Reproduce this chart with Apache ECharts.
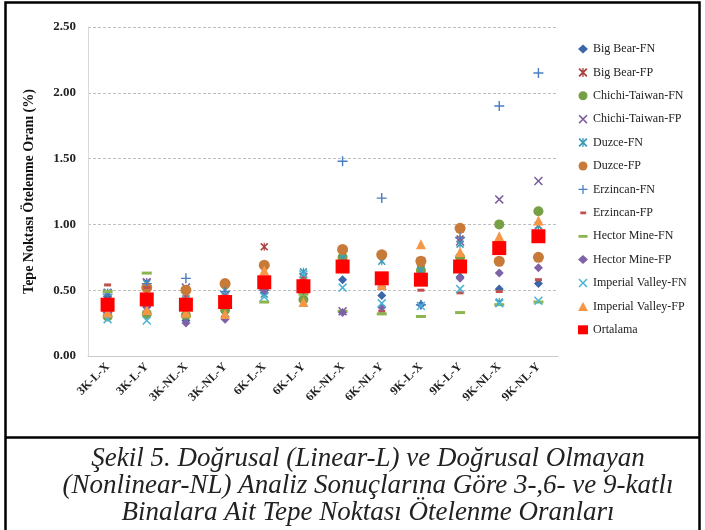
<!DOCTYPE html>
<html>
<head>
<meta charset="utf-8">
<script src="https://cdn.jsdelivr.net/npm/echarts@6/dist/echarts.min.js"></script>
<style>
  html, body { margin: 0; padding: 0; background: #fff; }
  #chart { width: 705px; height: 530px; }
</style>
</head>
<body>
<div id="chart"></div>
<script>
// Building / analysis cases on the x axis
const categories = ['3K-L-X', '3K-L-Y', '3K-NL-X', '3K-NL-Y', '6K-L-X', '6K-L-Y',
                    '6K-NL-X', '6K-NL-Y', '9K-L-X', '9K-L-Y', '9K-NL-X', '9K-NL-Y'];

// Roof drift ratios (%) per earthquake record and component
const bigBearFN        = [0.45, 0.38, 0.27, 0.30, 0.48, 0.50, 0.58, 0.46, 0.39, 0.60, 0.51, 0.55];
const bigBearFP        = [0.48, 0.56, 0.50, 0.44, 0.83, 0.58, 0.74, 0.60, 0.70, 0.89, 0.86, 0.99];
const chichiTaiwanFN   = [0.30, 0.32, 0.31, 0.35, 0.52, 0.43, 0.75, 0.58, 0.65, 0.75, 1.00, 1.10];
const chichiTaiwanFP   = [0.48, 0.56, 0.52, 0.46, 0.55, 0.60, 0.34, 0.55, 0.72, 0.87, 1.19, 1.33];
const duzceFN          = [0.48, 0.55, 0.46, 0.50, 0.47, 0.64, 0.74, 0.72, 0.65, 0.85, 0.41, 0.99];
const duzceFP          = [0.35, 0.52, 0.50, 0.55, 0.69, 0.55, 0.81, 0.77, 0.72, 0.97, 0.72, 0.75];
const erzincanFN       = [0.47, 0.55, 0.59, 0.49, 0.50, 0.55, 1.48, 1.20, 0.39, 0.90, 1.90, 2.15];
const erzincanFP       = [0.54, 0.52, 0.45, 0.45, 0.55, 0.60, 0.34, 0.34, 0.50, 0.48, 0.49, 0.58];
const hectorMineFN     = [0.49, 0.63, 0.30, 0.40, 0.41, 0.47, 0.34, 0.32, 0.30, 0.33, 0.39, 0.41];
const hectorMineFP     = [0.33, 0.37, 0.25, 0.28, 0.50, 0.50, 0.33, 0.37, 0.60, 0.59, 0.63, 0.67];
const imperialValleyFN = [0.28, 0.27, 0.43, 0.43, 0.45, 0.62, 0.52, 0.40, 0.38, 0.51, 0.40, 0.42];
const imperialValleyFP = [0.33, 0.35, 0.33, 0.32, 0.65, 0.41, 0.67, 0.54, 0.85, 0.79, 0.91, 1.03];
const ortalama         = [0.39, 0.43, 0.39, 0.41, 0.56, 0.53, 0.68, 0.59, 0.58, 0.68, 0.82, 0.91];

// Y axis ticks
const yTicks = [0, 0.5, 1.0, 1.5, 2.0, 2.5];

const captionLines = [
  'Şekil 5. Doğrusal (Linear-L) ve Doğrusal Olmayan',
  '(Nonlinear-NL) Analiz Sonuçlarına Göre 3-,6- ve 9-katlı',
  'Binalara Ait Tepe Noktası Ötelenme Oranları'
];

// Marker shapes
const X_PATH = 'path://M0,1.2 L1.2,0 L5,3.8 L8.8,0 L10,1.2 L6.2,5 L10,8.8 L8.8,10 L5,6.2 L1.2,10 L0,8.8 L3.8,5 Z';
const PLUS_PATH = 'path://M4.3,0 L5.7,0 L5.7,4.3 L10,4.3 L10,5.7 L5.7,5.7 L5.7,10 L4.3,10 L4.3,5.7 L0,5.7 L0,4.3 L4.3,4.3 Z';
const STAR_PATH = 'path://M0,1.4 L1.4,0 L5,3.6 L8.6,0 L10,1.4 L6.4,5 L10,8.6 L8.6,10 L5,6.4 L1.4,10 L0,8.6 L3.6,5 Z M4.3,0 L5.7,0 L5.7,10 L4.3,10 Z';
// legend icons for the dash markers: zero-area corner points keep the 10x10 box
const SHORT_DASH_ICON = 'path://M0,0 L0,0 Z M10,10 L10,10 Z M2,3.6 L8.5,3.6 L8.5,6.6 L2,6.6 Z';
const LONG_DASH_ICON = 'path://M0,0 L0,0 Z M10,10 L10,10 Z M0,3.6 L10,3.6 L10,6.6 L0,6.6 Z';

const FONT = '"Liberation Serif", "Times New Roman", serif';

const seriesDefs = [
  { name: 'Big Bear-FN',         data: bigBearFN,        symbol: 'diamond',   size: 9,        color: '#3B66A8' },
  { name: 'Big Bear-FP',         data: bigBearFP,        symbol: STAR_PATH,   size: 8,        color: '#A8423F' },
  { name: 'Chichi-Taiwan-FN',    data: chichiTaiwanFN,   symbol: 'circle',    size: 10,       color: '#77A046' },
  { name: 'Chichi-Taiwan-FP',    data: chichiTaiwanFP,   symbol: X_PATH,      size: 9,        color: '#7A5E9E' },
  { name: 'Duzce-FN',            data: duzceFN,          symbol: STAR_PATH,   size: 8,        color: '#3E9CB8' },
  { name: 'Duzce-FP',            data: duzceFP,          symbol: 'circle',    size: 11,       color: '#C87B39' },
  { name: 'Erzincan-FN',         data: erzincanFN,       symbol: PLUS_PATH,   size: 10,       color: '#4A7EC2' },
  { name: 'Erzincan-FP',         data: erzincanFP,       symbol: 'rect',      size: [7, 3],   color: '#C0504D', icon: SHORT_DASH_ICON },
  { name: 'Hector Mine-FN',      data: hectorMineFN,     symbol: 'rect',      size: [10, 3],  color: '#8DB54F', icon: LONG_DASH_ICON },
  { name: 'Hector Mine-FP',      data: hectorMineFP,     symbol: 'diamond',   size: 9,        color: '#7E62A8' },
  { name: 'Imperial Valley-FN',  data: imperialValleyFN, symbol: X_PATH,      size: 9,        color: '#4BB4D6' },
  { name: 'Imperial Valley-FP',  data: imperialValleyFP, symbol: 'triangle',  size: 10,       color: '#F79646' },
  { name: 'Ortalama',            data: ortalama,         symbol: 'rect',      size: 14,       color: '#FF0000' }
];

const chart = echarts.init(document.getElementById('chart'), null, { renderer: 'canvas' });

const option = {
  backgroundColor: '#ffffff',
  animation: false,
  textStyle: { fontFamily: FONT },
  grid: { left: 88, top: 27, right: 147, bottom: 174, containLabel: false },
  legend: {
    orient: 'vertical',
    left: 573,
    top: 37,
    itemWidth: 10,
    itemHeight: 9,
    itemGap: 9.4,
    textStyle: { fontFamily: FONT, fontSize: 12, color: '#222', lineHeight: 14 },
    data: seriesDefs.map(s => ({ name: s.name, icon: s.icon || s.symbol }))
  },
  xAxis: {
    type: 'category',
    data: categories,
    boundaryGap: true,
    axisLine: { show: true, lineStyle: { color: '#C8C8C8', width: 1 } },
    axisTick: { show: false },
    axisLabel: {
      rotate: 45,
      interval: 0,
      margin: 9,
      fontFamily: FONT,
      fontWeight: 'bold',
      fontSize: 12,
      color: '#222'
    },
    splitLine: { show: false }
  },
  yAxis: {
    type: 'value',
    min: yTicks[0],
    max: yTicks[yTicks.length - 1],
    interval: 0.5,
    name: 'Tepe Noktası Ötelenme Oranı (%)',
    nameLocation: 'middle',
    nameGap: 52,
    nameRotate: 90,
    nameTextStyle: { fontFamily: FONT, fontWeight: 'bold', fontSize: 14, color: '#111' },
    axisLine: { show: true, lineStyle: { color: '#D9D9D9', width: 1 } },
    axisTick: { show: false },
    axisLabel: {
      margin: 12,
      fontFamily: FONT,
      fontWeight: 'bold',
      fontSize: 13,
      color: '#222',
      formatter: v => v.toFixed(2)
    },
    splitLine: { show: true, lineStyle: { color: '#BFBFBF', type: [3, 2], width: 1 } }
  },
  series: seriesDefs.map((s, i) => ({
    name: s.name,
    type: 'scatter',
    data: s.data,
    symbol: s.symbol,
    symbolSize: s.size,
    z: 2 + i,
    itemStyle: { color: s.color, opacity: 1 },
    emphasis: { disabled: true }
  })),
  graphic: [
    // outer frame of the figure
    { type: 'rect', shape: { x: 5.5, y: 2.5, width: 694, height: 560 },
      style: { fill: 'none', stroke: '#000', lineWidth: 2.5 }, z: 100 },
    // separator between chart and caption
    { type: 'line', shape: { x1: 5, y1: 437.5, x2: 700, y2: 437.5 },
      style: { stroke: '#000', lineWidth: 2.5 }, z: 100 }
  ].concat(captionLines.map((t, i) => ({
    type: 'text',
    x: 368,
    y: 459 + i * 27,
    z: 100,
    style: {
      text: t,
      fill: '#222',
      font: 'italic 27px ' + FONT,
      textAlign: 'center',
      textVerticalAlign: 'middle'
    }
  })))
};

chart.setOption(option);
</script>
</body>
</html>
